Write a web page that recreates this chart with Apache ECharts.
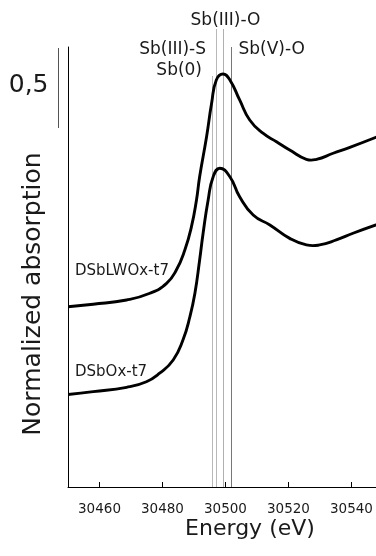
<!DOCTYPE html>
<html><head><meta charset="utf-8">
<script src="https://cdn.jsdelivr.net/npm/echarts@6/dist/echarts.min.js"></script>
<style>html,body{margin:0;padding:0;background:#fff}#c{width:376px;height:556px}</style>
</head><body><div id="c"></div>
<script>
// ---- data ----
const xTicks = [30460, 30480, 30500, 30520, 30540];
const lwoxEnergy = [30450, 30458, 30468.6, 30476, 30481.3, 30484.4, 30487.1, 30489.2, 30490.8, 30491.8, 30494, 30495.6, 30497.1, 30499.2, 30501.4, 30504.5, 30507.7, 30511.9, 30516.2, 30520.4, 30525.7, 30528.9, 30534.2, 30539.5, 30547.8];
const lwoxAbs = [1.127, 1.142, 1.169, 1.211, 1.273, 1.356, 1.481, 1.627, 1.794, 1.939, 2.189, 2.398, 2.544, 2.581, 2.544, 2.419, 2.294, 2.211, 2.158, 2.106, 2.048, 2.048, 2.086, 2.123, 2.186];
const soxEnergy = [30450, 30458, 30468.6, 30474.9, 30479.1, 30483.4, 30486.5, 30488.7, 30490.3, 30491.8, 30492.9, 30494.5, 30496.1, 30498.2, 30501.4, 30504.5, 30508.8, 30514.1, 30520.4, 30525.7, 30529.9, 30535.2, 30540.5, 30547.8];
const soxAbs = [0.578, 0.596, 0.623, 0.658, 0.711, 0.794, 0.919, 1.064, 1.211, 1.419, 1.586, 1.794, 1.939, 1.992, 1.939, 1.814, 1.700, 1.638, 1.554, 1.513, 1.513, 1.544, 1.586, 1.638];
const refEnergies = [30495.7, 30497.0, 30499.2, 30501.7];
const refNames = ['Sb(0)', 'Sb(III)-S', 'Sb(III)-O', 'Sb(V)-O'];
const curveNames = ['DSbLWOx-t7', 'DSbOx-t7'];
const scaleBarValue = 0.5;
const scaleBarLabel = '0,5';
const xTitle = 'Energy (eV)';
const yTitle = 'Normalized absorption';

// ---- layout / style ----
const FONT = 'DejaVu Sans';
const TXT = '#1a1a1a';
const refLayout = [
  {top: 76, dx: -10.5, ly: 71, align: 'right', color: '#b8b8b8'},
  {top: 29, dx: -10.5, ly: 50, align: 'right', color: '#b8b8b8'},
  {top: 29, dx: 2, ly: 21, align: 'center', color: '#b0b0b0'},
  {top: 47, dx: 7, ly: 50, align: 'left', color: '#777777'}
];
const curves = [
  {e: lwoxEnergy, a: lwoxAbs},
  {e: soxEnergy, a: soxAbs}
];

const chart = echarts.init(document.getElementById('c'), null, {renderer: 'canvas'});

function curveSeries(k) {
  return {
    type: 'custom', name: curveNames[k], clip: true, silent: true, z: 3,
    data: [[curves[k].e[0], curves[k].a[0], k]],
    renderItem: function (params, api) {
      const c = curves[api.value(2)];
      const pts = c.e.map((e, i) => api.coord([e, c.a[i]]));
      return {
        type: 'polyline',
        shape: {points: pts, smooth: 0.5},
        style: {stroke: '#000', lineWidth: 2.9, fill: null, lineJoin: 'round', lineCap: 'round'}
      };
    }
  };
}

chart.setOption({
  animation: false,
  backgroundColor: '#fff',
  grid: {left: 68, right: 0, top: 47, bottom: 69},
  xAxis: {
    type: 'value', min: 30450, max: 30547.8,
    axisLine: {show: true, lineStyle: {color: '#000', width: 1}},
    axisTick: {show: true, inside: true, length: 5, customValues: xTicks, lineStyle: {color: '#000', width: 1}},
    axisLabel: {customValues: xTicks, margin: 15, color: TXT, fontFamily: FONT, fontSize: 13.5,
      formatter: v => String(v)},
    splitLine: {show: false}
  },
  yAxis: {
    type: 'value', min: 0, max: 2.75,
    axisLine: {show: true, lineStyle: {color: '#000', width: 1}},
    axisTick: {show: false}, axisLabel: {show: false}, splitLine: {show: false}
  },
  series: [
    {
      type: 'custom', name: 'refs', clip: false, silent: true, z: 1,
      data: refEnergies.map((e, i) => [e, 0, i]),
      renderItem: function (params, api) {
        const i = api.value(2);
        const L = refLayout[i];
        const p = api.coord([api.value(0), 0]);
        const x = Math.round(p[0]) + 0.5;
        return {
          type: 'group',
          children: [
            {type: 'line', shape: {x1: x, y1: L.top, x2: x, y2: p[1]}, style: {stroke: L.color, lineWidth: 1}},
            {type: 'text', style: {text: refNames[i], x: x + L.dx, y: L.ly, align: L.align, verticalAlign: 'middle',
              fill: TXT, font: '17px "' + FONT + '"'}}
          ]
        };
      }
    },
    {
      type: 'custom', name: 'scalebar', clip: false, silent: true, z: 1,
      data: [[30450, scaleBarValue]],
      renderItem: function (params, api) {
        const cs = params.coordSys;
        const len = api.size([0, api.value(1)])[1];
        const x = cs.x - 9.5;
        const y1 = cs.y + 1, y2 = cs.y + 1 + len;
        return {
          type: 'group',
          children: [
            {type: 'line', shape: {x1: x, y1: y1, x2: x, y2: y2}, style: {stroke: '#555', lineWidth: 1}},
            {type: 'text', style: {text: scaleBarLabel, x: x - 10, y: (y1 + y2) / 2 - 3, align: 'right', verticalAlign: 'middle',
              fill: TXT, font: '25px "' + FONT + '"'}}
          ]
        };
      }
    },
    curveSeries(0),
    curveSeries(1)
  ],
  graphic: [
    {type: 'text', left: 75, top: 264, style: {text: curveNames[0], fill: TXT, font: '15px "' + FONT + '"'}},
    {type: 'text', left: 75, top: 365, style: {text: curveNames[1], fill: TXT, font: '15px "' + FONT + '"'}},
    {type: 'text', x: 250, y: 529, style: {text: xTitle, align: 'center', verticalAlign: 'middle', fill: TXT, font: '22px "' + FONT + '"'}},
    {type: 'text', x: 33, y: 294, rotation: Math.PI / 2, style: {text: yTitle, align: 'center', verticalAlign: 'middle', fill: TXT, font: '25px "' + FONT + '"'}}
  ]
});
</script>
</body></html>
